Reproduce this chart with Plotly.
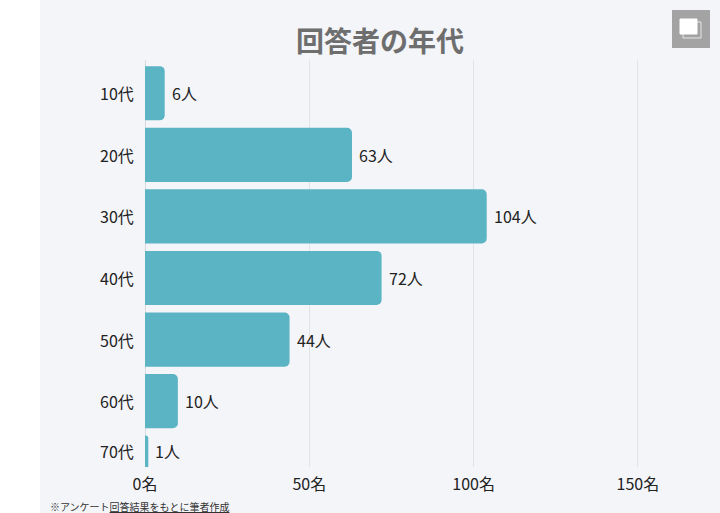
import plotly.graph_objects as go

categories = ["10代", "20代", "30代", "40代", "50代", "60代", "70代"]
counts = [6, 63, 104, 72, 44, 10, 1]
value_labels = ["6人", "63人", "104人", "72人", "44人", "10人", "1人"]
x_tick_vals = [0, 50, 100, 150]
x_tick_text = ["0名", "50名", "100名", "150名"]
title_text = "回答者の年代"
note_text = "※アンケート<u>回答結果をもとに筆者作成</u>"

W, H = 720, 513
ML, MR, MT, MB = 145, 0, 60, 46
PW, PH = W - ML - MR, H - MT - MB

def px(x):
    return (x - ML) / PW

def py(y):
    return (H - MB - y) / PH

FONT = "Noto Sans CJK JP, Noto Sans, sans-serif"
BG = "#f4f5f9"
BAR = "#5bb4c4"
YRANGE = [6.07, -0.54]
BAR_W = 0.88

# the last bar is cut off by the bottom of the plot; centre its labels on the visible part
pix_per_cat = PH / (YRANGE[0] - YRANGE[1])
def label_shift(i):
    top = i - BAR_W / 2
    bottom = min(i + BAR_W / 2, YRANGE[0])
    return (i - (top + bottom) / 2) * pix_per_cat

fig = go.Figure(go.Bar(
    y=categories, x=counts, orientation="h",
    marker=dict(color=BAR, cornerradius=5, line=dict(width=0)),
    width=BAR_W,
    hoverinfo="skip",
))

annotations = [
    dict(text=f"<b>{title_text}</b>", xref="paper", yref="paper", x=px(380), y=py(40),
         xanchor="center", yanchor="middle", showarrow=False,
         font=dict(size=28, color="#6e6e6e", family=FONT)),
    dict(text=note_text, xref="paper", yref="paper", x=px(48), y=py(507),
         xanchor="left", yanchor="middle", showarrow=False,
         font=dict(size=10, color="#333333", family=FONT)),
]
for i, (cat, val, lab) in enumerate(zip(categories, counts, value_labels)):
    ys = label_shift(i)
    annotations.append(dict(text=cat, xref="x", yref="y", x=0, y=cat, xanchor="right",
                            yanchor="middle", xshift=-9, yshift=ys, showarrow=False,
                            font=dict(size=16, color="#222222", family=FONT)))
    annotations.append(dict(text=lab, xref="x", yref="y", x=val, y=cat, xanchor="left",
                            yanchor="middle", xshift=5, yshift=ys, showarrow=False,
                            font=dict(size=16, color="#222222", family=FONT)))

shapes = [
    dict(type="rect", xref="paper", yref="paper", x0=px(0), x1=px(40), y0=py(H), y1=py(0),
         fillcolor="white", line=dict(width=0), layer="below"),
    # icon
    dict(type="rect", xref="paper", yref="paper", x0=px(672), x1=px(710), y0=py(48), y1=py(10),
         fillcolor="#a3a3a3", line=dict(width=0)),
    dict(type="rect", xref="paper", yref="paper", x0=px(683), x1=px(701), y0=py(38), y1=py(22),
         fillcolor="rgba(0,0,0,0)", line=dict(color="#e6e6e6", width=1)),
    dict(type="rect", xref="paper", yref="paper", x0=px(680), x1=px(697), y0=py(34), y1=py(19),
         fillcolor="white", line=dict(color="white", width=1)),
]

fig.update_layout(
    width=W, height=H,
    margin=dict(l=ML, r=MR, t=MT, b=MB),
    paper_bgcolor=BG, plot_bgcolor=BG,
    showlegend=False,
    font=dict(family=FONT, color="#222222", size=16),
    xaxis=dict(range=[0, 175], tickvals=x_tick_vals, ticktext=x_tick_text,
               showgrid=True, gridcolor="#e2e3e6", gridwidth=1,
               zeroline=True, zerolinecolor="#d8d9dc", zerolinewidth=1,
               showline=False, ticks="", ticklabelstandoff=6,
               tickfont=dict(size=16, color="#222222")),
    yaxis=dict(type="category", range=YRANGE, showgrid=False, zeroline=False,
               ticks="", showticklabels=False),
    shapes=shapes,
    annotations=annotations,
)

fig.write_html("out.html")
